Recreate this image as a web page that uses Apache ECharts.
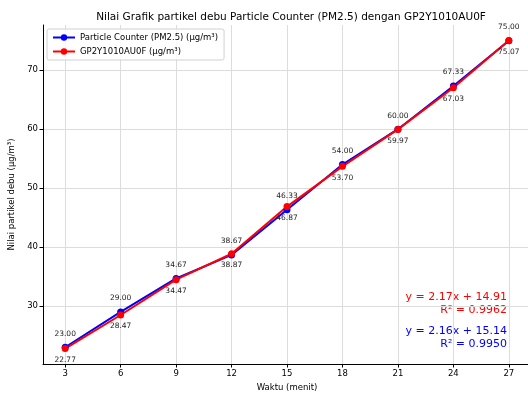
<!DOCTYPE html>
<html>
<head>
<meta charset="utf-8">
<script src="https://cdn.jsdelivr.net/npm/echarts@6/dist/echarts.min.js"></script>
<style>
  html, body { margin: 0; padding: 0; background: #fff; }
  #chart { width: 528px; height: 394px; }
</style>
</head>
<body>
<div id="chart"></div>
<script>
// data
const waktu = [3, 6, 9, 12, 15, 18, 21, 24, 27]
const particleCounter = [23.00, 29.00, 34.67, 38.67, 46.33, 54.00, 60.00, 67.33, 75.00]
const gp2y = [22.77, 28.47, 34.47, 38.87, 46.87, 53.70, 59.97, 67.03, 75.07]
const xTicks = [3, 6, 9, 12, 15, 18, 21, 24, 27]
const yTicks = [30, 40, 50, 60, 70]
const fitRed = ['y = 2.17x + 14.91', 'R² = 0.9962']
const fitBlue = ['y = 2.16x + 15.14', 'R² = 0.9950']

const font = 'DejaVu Sans'
const chart = echarts.init(document.getElementById('chart'))

const toPairs = vals => waktu.map((x, i) => [x, vals[i]])

const option = {
  animation: false,
  textStyle: { fontFamily: font },
  title: {
    text: 'Nilai Grafik partikel debu Particle Counter (PM2.5) dengan GP2Y1010AU0F',
    left: 286,
    textAlign: 'center',
    top: 7,
    textStyle: { fontSize: 10.5, fontWeight: 'normal', color: '#000', fontFamily: font }
  },
  legend: {
    left: 47,
    top: 29,
    orient: 'vertical',
    itemGap: 5,
    itemWidth: 22,
    itemHeight: 8,
    padding: [4, 6, 4, 5],
    borderColor: '#d0d0d0',
    borderWidth: 1,
    borderRadius: 2,
    backgroundColor: 'rgba(255,255,255,0.8)',
    textStyle: { fontSize: 8.5, color: '#000', fontFamily: font },
    data: ['Particle Counter (PM2.5) (μg/m³)', 'GP2Y1010AU0F (μg/m³)']
  },
  // plot area runs past the right edge of the picture, as in the reference
  grid: { left: 43, top: 25, width: 488, height: 339, outerBoundsMode: 'none', containLabel: false },
  xAxis: {
    type: 'value',
    min: 1.8,
    max: 28.2,
    name: 'Waktu (menit)',
    nameLocation: 'middle',
    nameGap: 17,
    nameTextStyle: { fontSize: 8.5, color: '#000' },
    axisLine: { lineStyle: { color: '#000', width: 1 } },
    axisTick: { customValues: xTicks, length: 3.5, lineStyle: { color: '#000' } },
    axisLabel: { customValues: xTicks, fontSize: 8.5, color: '#000', margin: 5 },
    splitLine: { show: true, lineStyle: { color: '#dcdcdc', width: 1 } }
  },
  yAxis: {
    type: 'value',
    min: 20.155,
    max: 77.685,
    name: 'Nilai partikel debu (μg/m³)',
    nameLocation: 'middle',
    nameGap: 19,
    nameTextStyle: { fontSize: 8.5, color: '#000' },
    axisLine: { show: true, lineStyle: { color: '#000', width: 1 } },
    axisTick: { show: true, customValues: yTicks, length: 3.5, lineStyle: { color: '#000' } },
    axisLabel: { customValues: yTicks, fontSize: 8.5, color: '#000', margin: 5 },
    splitLine: { show: true, lineStyle: { color: '#dcdcdc', width: 1 } }
  },
  series: [
    {
      name: 'Particle Counter (PM2.5) (μg/m³)',
      type: 'line',
      data: toPairs(particleCounter),
      symbol: 'circle',
      symbolSize: 7,
      color: '#0000ff',
      lineStyle: { width: 2 },
      label: {
        show: true,
        position: 'top',
        distance: 6,
        fontSize: 7.5,
        color: '#222',
        formatter: p => p.value[1].toFixed(2)
      }
    },
    {
      name: 'GP2Y1010AU0F (μg/m³)',
      type: 'line',
      data: toPairs(gp2y),
      symbol: 'circle',
      symbolSize: 7,
      color: '#ff0000',
      lineStyle: { width: 2 },
      label: {
        show: true,
        position: 'bottom',
        distance: 4,
        fontSize: 7.5,
        color: '#222',
        formatter: p => p.value[1].toFixed(2)
      }
    }
  ],
  graphic: [
    {
      type: 'text', x: 507, y: 290,
      style: { text: fitRed.join('\n'), align: 'right', fill: '#ff0000', fontSize: 11, lineHeight: 13.5, fontFamily: font }
    },
    {
      type: 'text', x: 507, y: 324,
      style: { text: fitBlue.join('\n'), align: 'right', fill: '#0000ff', fontSize: 11, lineHeight: 13.5, fontFamily: font }
    }
  ]
}

chart.setOption(option)
</script>
</body>
</html>
